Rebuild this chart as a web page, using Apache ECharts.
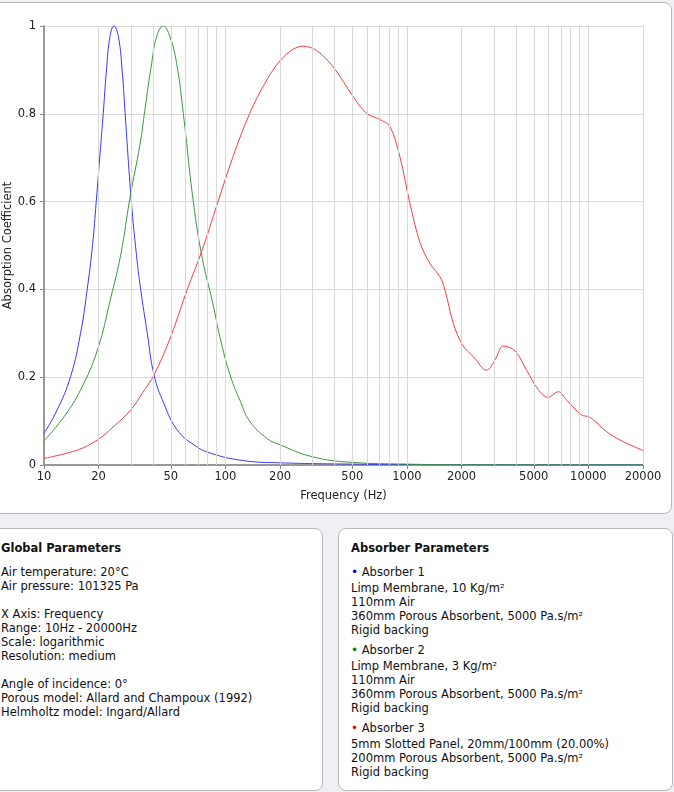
<!DOCTYPE html>
<html>
<head>
<meta charset="utf-8">
<script src="https://cdn.jsdelivr.net/npm/echarts@6/dist/echarts.min.js"></script>
<style>
  html, body { margin: 0; padding: 0; }
  body {
    width: 674px; height: 792px; overflow: hidden; position: relative;
    background: #f0eff4;
    font-family: 'DejaVu Sans', Verdana, sans-serif; font-size: 11.5px; color: #111;
  }
  .panel {
    position: absolute; box-sizing: border-box; background: #fff;
    border: 1px solid #b9b9bd; border-radius: 8px;
  }
  #chartPanel { left: -12px; top: 2px; width: 684px; height: 512px; }
  #main { position: absolute; left: 0; top: 0; width: 674px; height: 516px; }
  #globalPanel { left: -12px; top: 528px; width: 335px; height: 263px; padding: 12px 12px; line-height: 14px; }
  #absPanel { left: 338px; top: 528px; width: 335px; height: 263px; padding: 12px 12px; line-height: 14px; }
  h4 { margin: 0 0 10px 0; font-size: 11.5px; font-weight: bold; line-height: 14px; }
  .gap { height: 14px; }
  .absorber { margin-bottom: 6.5px; }
  .absorber .head { margin-bottom: 1.5px; }
  .dot { font-size: 12px; }
</style>
</head>
<body>
<div class="panel" id="chartPanel"></div>
<div id="main"></div>

<div class="panel" id="globalPanel">
  <h4>Global Parameters</h4>
  <div>Air temperature: 20°C</div>
  <div>Air pressure: 101325 Pa</div>
  <div class="gap"></div>
  <div>X Axis: Frequency</div>
  <div>Range: 10Hz - 20000Hz</div>
  <div>Scale: logarithmic</div>
  <div>Resolution: medium</div>
  <div class="gap"></div>
  <div>Angle of incidence: 0°</div>
  <div>Porous model: Allard and Champoux (1992)</div>
  <div>Helmholtz model: Ingard/Allard</div>
</div>

<div class="panel" id="absPanel">
  <h4>Absorber Parameters</h4>
  <div class="absorber">
    <div class="head"><span class="dot" style="color:#0000dd">•</span> Absorber 1</div>
    <div>Limp Membrane, 10 Kg/m²</div>
    <div>110mm Air</div>
    <div>360mm Porous Absorbent, 5000 Pa.s/m²</div>
    <div>Rigid backing</div>
  </div>
  <div class="absorber">
    <div class="head"><span class="dot" style="color:#008000">•</span> Absorber 2</div>
    <div>Limp Membrane, 3 Kg/m²</div>
    <div>110mm Air</div>
    <div>360mm Porous Absorbent, 5000 Pa.s/m²</div>
    <div>Rigid backing</div>
  </div>
  <div class="absorber">
    <div class="head"><span class="dot" style="color:#ee0000">•</span> Absorber 3</div>
    <div>5mm Slotted Panel, 20mm/100mm (20.00%)</div>
    <div>200mm Porous Absorbent, 5000 Pa.s/m²</div>
    <div>Rigid backing</div>
  </div>
</div>

<script>
// frequency (Hz) / absorption coefficient
var blueFreq = [10, 11.8, 14.0, 15.9, 17.3, 18.5, 19.4, 20.5, 21.2, 22.1, 23.1, 24.3, 25.7, 27.0, 28.0, 30.3, 32.3, 34.1, 37.1, 40.4, 45.8, 54.2, 67, 82.8, 126, 200, 500, 1000, 3000, 20000];
var blueAbs  = [0.072, 0.125, 0.201, 0.30, 0.40, 0.50, 0.60, 0.725, 0.80, 0.90, 0.976, 1.0, 0.976, 0.895, 0.80, 0.60, 0.48, 0.40, 0.30, 0.205, 0.14, 0.08, 0.046, 0.027, 0.010, 0.005, 0.002, 0.001, 0.0005, 0.0002];

var greenFreq = [10, 12.9, 15.9, 19.7, 23.3, 26.5, 29.8, 33.8, 36.0, 39.2, 41.8, 45.4, 49.4, 53.8, 58.6, 66.5, 74.6, 85, 94, 107, 120, 136, 170, 200, 300, 500, 1000, 2000, 20000];
var greenAbs  = [0.055, 0.11, 0.171, 0.262, 0.38, 0.48, 0.61, 0.73, 0.81, 0.915, 0.976, 1.0, 0.976, 0.915, 0.8, 0.6, 0.47, 0.37, 0.285, 0.2, 0.148, 0.10, 0.06, 0.046, 0.019, 0.006, 0.002, 0.0005, 0.0001];

var redFreq = [10, 15.3, 19.7, 24.1, 30, 35, 40.4, 49.9, 61.6, 74.5, 91, 110, 136, 169, 200, 236, 268, 318, 392, 506, 600, 710, 806, 915, 1039, 1180, 1340, 1520, 1620, 1800, 2028, 2320, 2748, 3054, 3396, 3939, 4567, 5290, 6004, 6817, 7580, 9170, 10190, 12590, 14920, 20000];
var redAbs  = [0.015, 0.034, 0.057, 0.087, 0.125, 0.165, 0.205, 0.292, 0.40, 0.49, 0.60, 0.702, 0.801, 0.877, 0.921, 0.947, 0.954, 0.944, 0.907, 0.839, 0.801, 0.787, 0.771, 0.702, 0.596, 0.507, 0.459, 0.429, 0.399, 0.323, 0.273, 0.247, 0.216, 0.239, 0.271, 0.260, 0.216, 0.172, 0.154, 0.167, 0.148, 0.114, 0.109, 0.076, 0.057, 0.033];

var xLabelFreqs = [10, 20, 50, 100, 200, 500, 1000, 2000, 5000, 10000, 20000];
var gridFreqs = [20, 30, 40, 50, 60, 70, 80, 90, 100, 200, 300, 400, 500, 600, 700, 800, 900,
                 1000, 2000, 3000, 4000, 5000, 6000, 7000, 8000, 9000, 10000, 20000];

window.onload = function() {
    var chart = echarts.init(document.getElementById('main'), null, { renderer: 'canvas' });
    var font = 'DejaVu Sans';

    function pairs(freqs, vals) {
        return freqs.map(function(f, i) { return [Math.log10(f), vals[i]]; });
    }
    function curve(name, color, freqs, vals, smooth) {
        return {
            name: name, type: 'line', z: 3,
            data: pairs(freqs, vals),
            showSymbol: false, smooth: smooth,
            lineStyle: { color: color, width: 1 },
            itemStyle: { color: color }
        };
    }
    var labelVals = xLabelFreqs.map(function(f) { return Math.log10(f); });

    var option = {
        animation: false,
        grid: { left: 44, top: 26, width: 599, height: 439, containLabel: false, outerBoundsMode: 'none' },
        xAxis: {
            type: 'value', min: 1, max: Math.log10(20000),
            name: 'Frequency (Hz)', nameLocation: 'middle', nameGap: 25,
            nameTextStyle: { fontFamily: font, fontSize: 11.5, color: '#222' },
            axisLine: { lineStyle: { color: '#999', width: 2 } },
            axisTick: { show: true, length: 4, customValues: labelVals, lineStyle: { color: '#888' } },
            axisLabel: {
                customValues: labelVals, margin: 6,
                fontFamily: font, fontSize: 11.5, color: '#222',
                formatter: function(v) { return String(Math.round(Math.pow(10, v))); }
            },
            splitLine: { show: false }
        },
        yAxis: {
            type: 'value', min: 0, max: 1, interval: 0.2,
            name: 'Absorption Coefficient', nameLocation: 'middle', nameGap: 30, nameRotate: 90,
            nameMoveOverlap: false,
            nameTextStyle: { fontFamily: font, fontSize: 11.5, color: '#222' },
            axisLine: { show: true, lineStyle: { color: '#999', width: 2 } },
            axisTick: { show: true, length: 4, lineStyle: { color: '#888' } },
            axisLabel: {
                margin: 8, fontFamily: font, fontSize: 11.5, color: '#222',
                formatter: function(v) { return String(Math.round(v * 10) / 10); }
            },
            splitLine: { lineStyle: { color: '#dcdcdc', width: 1 } }
        },
        series: [
            {
                name: 'grid', type: 'line', z: 1, data: [[1, 0]],
                showSymbol: false, silent: true, lineStyle: { opacity: 0 },
                markLine: {
                    silent: true, symbol: 'none', animation: false,
                    label: { show: false },
                    lineStyle: { color: '#d8d8d8', width: 1, type: 'solid' },
                    data: gridFreqs.map(function(f) { return { xAxis: Math.log10(f) }; })
                }
            },
            curve('Absorber 1', '#3a3af0', blueFreq, blueAbs, 0.45),
            curve('Absorber 2', '#3c963c', greenFreq, greenAbs, 0.45),
            curve('Absorber 3', '#f04040', redFreq, redAbs, 0.35)
        ]
    };

    chart.setOption(option);
};
</script>
</body>
</html>
